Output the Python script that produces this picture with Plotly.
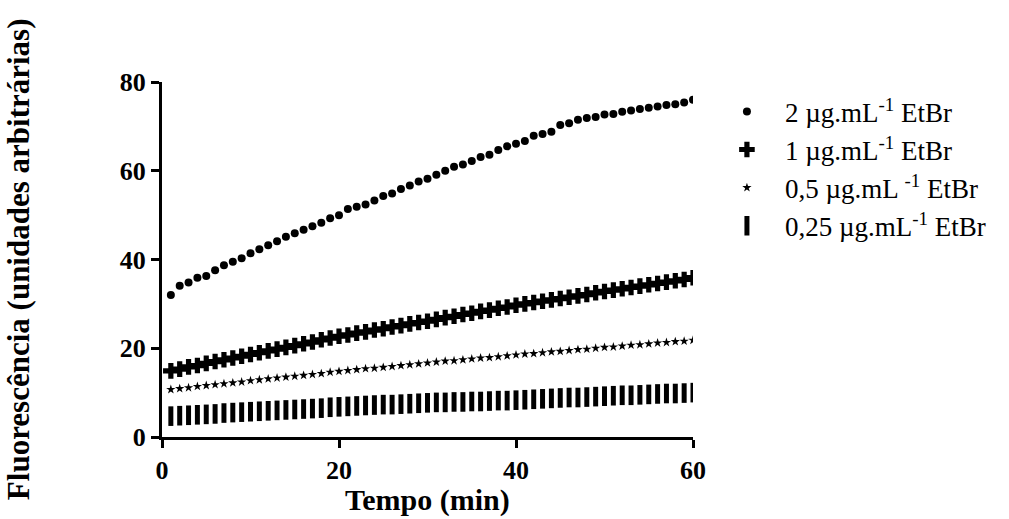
import plotly.graph_objects as go

minutes = list(range(1, 61))

etbr_2 = [32.0, 34.1, 34.8, 35.9, 36.3, 37.6, 38.7, 39.5, 40.3, 41.4,
          42.3, 43.2, 44.1, 45.1, 45.9, 46.7, 47.5, 48.3, 49.3, 50.0,
          51.4, 51.9, 52.4, 53.3, 54.3, 54.9, 55.9, 56.7, 57.6, 58.2,
          59.1, 60.0, 60.9, 61.4, 62.2, 63.1, 63.6, 64.7, 65.5, 66.1,
          66.7, 67.9, 68.3, 68.8, 70.3, 70.7, 71.5, 71.9, 72.1, 72.7,
          72.8, 73.3, 73.6, 73.9, 74.2, 74.5, 74.8, 75.0, 75.4, 76.0]

etbr_1 = [14.9, 15.3, 15.8, 16.1, 16.6, 17.0, 17.4, 17.8, 18.2, 18.6,
          19.0, 19.4, 19.8, 20.2, 20.6, 21.0, 21.4, 21.9, 22.3, 22.7,
          23.0, 23.4, 23.7, 24.1, 24.4, 24.8, 25.1, 25.5, 25.8, 26.1,
          26.5, 26.9, 27.2, 27.6, 27.9, 28.3, 28.6, 29.0, 29.3, 29.7,
          30.0, 30.3, 30.6, 30.9, 31.2, 31.5, 31.8, 32.1, 32.5, 32.8,
          33.1, 33.4, 33.7, 34.0, 34.3, 34.6, 34.9, 35.2, 35.5, 35.9]

etbr_05 = [10.7, 10.9, 11.1, 11.4, 11.6, 11.8, 12.0, 12.2, 12.4, 12.7,
           12.9, 13.1, 13.3, 13.5, 13.7, 13.9, 14.1, 14.3, 14.6, 14.8,
           15.0, 15.2, 15.4, 15.5, 15.7, 15.9, 16.1, 16.3, 16.5, 16.7,
           16.9, 17.1, 17.2, 17.4, 17.6, 17.8, 17.9, 18.1, 18.3, 18.5,
           18.7, 18.8, 19.0, 19.2, 19.3, 19.5, 19.7, 19.8, 20.0, 20.2,
           20.3, 20.5, 20.7, 20.8, 21.0, 21.2, 21.3, 21.5, 21.6, 21.8]

etbr_025 = [4.7, 4.8, 4.9, 5.0, 5.1, 5.2, 5.4, 5.5, 5.6, 5.7,
            5.8, 5.9, 6.0, 6.1, 6.2, 6.3, 6.4, 6.5, 6.7, 6.8,
            6.9, 7.0, 7.1, 7.2, 7.3, 7.3, 7.4, 7.5, 7.6, 7.7,
            7.8, 7.8, 7.9, 7.9, 8.0, 8.0, 8.1, 8.2, 8.2, 8.3,
            8.4, 8.5, 8.6, 8.7, 8.8, 8.9, 8.9, 9.0, 9.1, 9.2,
            9.3, 9.4, 9.4, 9.5, 9.6, 9.7, 9.8, 9.8, 9.9, 10.0]

series_names = ["2 µg.mL<sup>-1</sup> EtBr",
                "1 µg.mL<sup>-1</sup> EtBr",
                "0,5 µg.mL <sup>-1</sup> EtBr",
                "0,25 µg.mL<sup>-1</sup> EtBr"]

x_ticks = [0, 20, 40, 60]
y_ticks = [0, 20, 40, 60, 80]

x_title = "Tempo (min)"
y_title = "Fluorescência (unidades arbitrárias)"

SERIF = "Liberation Serif, Times New Roman, serif"

fig = go.Figure()
fig.add_trace(go.Scatter(x=minutes, y=etbr_2, mode="markers", name=series_names[0],
                         legendgroup="a",
                         marker=dict(symbol="circle", size=8, color="black")))
fig.add_trace(go.Scatter(x=minutes, y=etbr_1, mode="markers", name=series_names[1],
                         legendgroup="b",
                         marker=dict(symbol="cross", size=13, color="black")))
fig.add_trace(go.Scatter(x=minutes, y=etbr_05, mode="markers", name=series_names[2],
                         legendgroup="c",
                         marker=dict(symbol="star", size=7, color="black")))
fig.add_trace(go.Scatter(x=minutes, y=etbr_025, mode="markers", name=series_names[3],
                         legendgroup="d",
                         marker=dict(symbol="line-ns", size=14, color="black",
                                     line=dict(width=5, color="black"))))

fig.update_layout(
    width=1009, height=519,
    margin=dict(l=162, r=316, t=82, b=82, autoexpand=False),
    paper_bgcolor="white", plot_bgcolor="white",
    font=dict(family=SERIF, color="black"),
    legend=dict(x=1.03, y=0.985, xanchor="left", yanchor="top",
                font=dict(size=27, family=SERIF, color="black"),
                tracegroupgap=0, itemwidth=66,
                bgcolor="rgba(0,0,0,0)"),
    xaxis=dict(range=[0, 60], tickvals=x_ticks, ticktext=[f"<b>{v}</b>" for v in x_ticks],
               showgrid=False, zeroline=False, showline=True, linewidth=3, linecolor="black",
               ticks="outside", ticklen=8, tickwidth=3, tickcolor="black", automargin=False,
               tickfont=dict(size=26, family=SERIF, color="black")),
    yaxis=dict(range=[0, 80], tickvals=y_ticks, ticktext=[f"<b>{v}</b>" for v in y_ticks],
               showgrid=False, zeroline=False, showline=True, linewidth=3, linecolor="black",
               ticks="outside", ticklen=8, tickwidth=3, tickcolor="black", automargin=False,
               tickfont=dict(size=26, family=SERIF, color="black")),
    annotations=[
        dict(text=f"<b>{x_title}</b>", xref="paper", yref="paper", x=0.5, y=-0.178,
             xanchor="center", yanchor="middle", showarrow=False,
             font=dict(size=30, family=SERIF, color="black")),
        dict(text=f"<b>{y_title}</b>", xref="paper", yref="paper", x=-0.27, y=0.5,
             xanchor="center", yanchor="middle", showarrow=False, textangle=-90,
             font=dict(size=31, family=SERIF, color="black")),
    ],
)

fig.write_html("out.html")
